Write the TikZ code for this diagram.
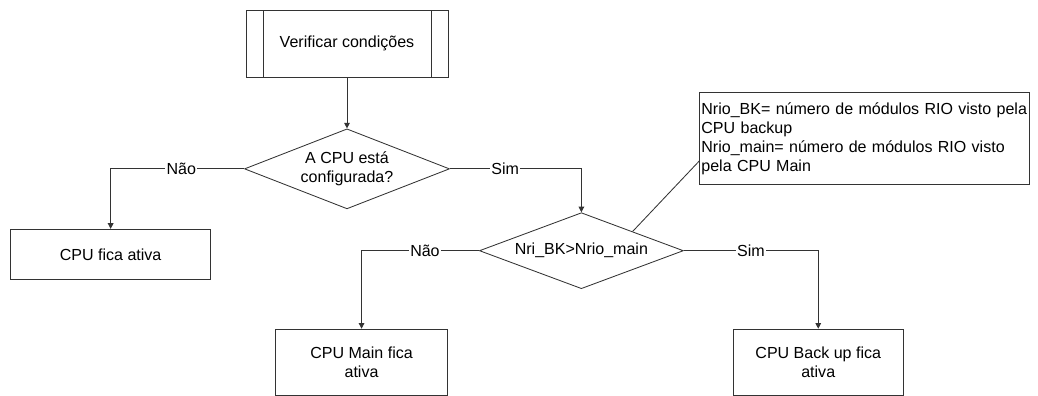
\documentclass[tikz,border=0pt]{standalone}
\usepackage{fontspec}
\setmainfont{Liberation Sans}
\usepackage{tikz}
\usetikzlibrary{shapes,arrows.meta,positioning,calc}

\begin{document}
\begin{tikzpicture}[
    every node/.style={font=\fontsize{11.4pt}{13.5pt}\selectfont},
    subproc/.style={rectangle, draw=black!80, line width=0.6pt, minimum width=5.05cm, minimum height=1.675cm, text centered,
        path picture={\draw[black!80, line width=0.6pt] ([xshift=0.425cm]path picture bounding box.north west) -- ([xshift=0.425cm]path picture bounding box.south west);
                      \draw[black!80, line width=0.6pt] ([xshift=-0.425cm]path picture bounding box.north east) -- ([xshift=-0.425cm]path picture bounding box.south east);}},
    decision/.style={diamond, draw=black!80, line width=0.6pt, aspect=2.5, inner sep=1pt, align=center},
    result/.style={rectangle, draw=black!80, line width=0.6pt, minimum height=1.65cm, align=center},
    note/.style={rectangle, draw=black!80, line width=0.6pt, text width=8.15cm, inner xsep=0.04cm, minimum height=2.3cm, align=left},
    lbl/.style={fill=white, inner sep=1pt},
    arrow/.style={-{Triangle[length=4pt, width=4pt]}, draw=black!80, line width=0.6pt},
    link/.style={draw=black!80, line width=0.6pt}
]
    % Start
    \node[subproc] (verif) {Verificar condições};

    % Decisions
    \node[decision, minimum width=5.125cm, minimum height=2cm, below=1.275cm of verif] (cfg) {A CPU está\\configurada?};
    \node[decision, minimum width=5.1cm, minimum height=1.9cm, below=0.075cm of cfg, xshift=5.86cm] (bk) {Nri\_BK>Nrio\_main};

    % Results
    \node[result, minimum width=5cm, minimum height=1.25cm, below left=1.5cm and 0.825cm of cfg.west] (ativa) {CPU fica ativa};
    \node[result, minimum width=4.3cm, below left=1.95cm and 0.775cm of bk.west] (main) {CPU Main fica\\ativa};
    \node[result, minimum width=4.25cm, below right=1.95cm and 1.225cm of bk.east] (backup) {CPU Back up fica\\ativa};

    % Note
    \node[note, above right=0.675cm and 2.95cm of bk.north] (legend) {Nrio\_BK= número de módulos RIO visto pela\\CPU backup\\Nrio\_main= número de módulos RIO visto\\pela CPU Main};

    % Arrows
    \draw[arrow] (verif) -- (cfg);
    \draw[arrow] (cfg.west) -| node[lbl, pos=0.235] {Não} (ativa.north);
    \draw[arrow] (cfg.east) -| node[lbl, pos=0.21] {Sim} (bk.north);
    \draw[arrow] (bk.west) -| node[lbl, pos=0.23] {Não} (main.north);
    \draw[arrow] (bk.east) -| node[lbl, pos=0.25] {Sim} (backup.north);
    \draw[link] ([yshift=-0.55cm]legend.west) -- (bk.north east);

    \useasboundingbox ([shift={(-8.675cm,1.0875cm)}]verif.center) rectangle ++(25.95cm,-9.825cm);
\end{tikzpicture}
\end{document}
